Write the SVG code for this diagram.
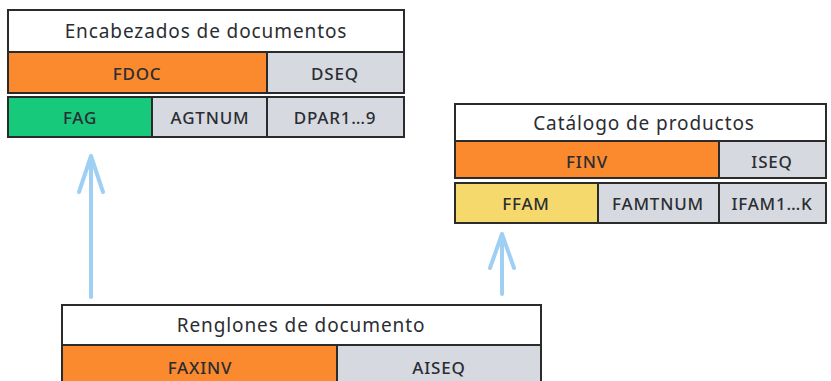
<svg xmlns="http://www.w3.org/2000/svg" width="831" height="381" viewBox="0 0 831 381">
<style>
.b{stroke:#2b2b2b;stroke-width:2}
.w{fill:#ffffff}.o{fill:#fb8a2e}.g{fill:#d6d9df}.gr{fill:#16c97b}.y{fill:#f5d96c}
.t{font-family:"Noto Sans","Open Sans",sans-serif;font-size:19px;letter-spacing:0.9px;fill:#2a2d33;text-anchor:middle}
.c{font-family:"Noto Sans","Open Sans",sans-serif;font-size:17px;font-weight:500;letter-spacing:0.8px;fill:#2a2d33;text-anchor:middle}
.a{stroke:#9fd0f3;stroke-width:4;fill:none;stroke-linecap:round;stroke-linejoin:round}
</style>
<rect width="831" height="381" fill="#ffffff"/>
<g id="encabezados">
<rect class="b w" x="8" y="10" width="396" height="42"/>
<text class="t" x="206" y="38">Encabezados de documentos</text>
<rect class="b o" x="8" y="52" width="259" height="41"/>
<rect class="b g" x="267" y="52" width="137" height="41"/>
<text class="c" x="137" y="80">FDOC</text>
<text class="c" x="335" y="80">DSEQ</text>
<rect class="b gr" x="8" y="97" width="144" height="40"/>
<rect class="b g" x="152" y="97" width="115" height="40"/>
<rect class="b g" x="267" y="97" width="137" height="40"/>
<text class="c" x="80" y="124">FAG</text>
<text class="c" x="210" y="124">AGTNUM</text>
<text class="c" x="335" y="124">DPAR1…9</text>
</g>
<g id="catalogo">
<rect class="b w" x="455" y="104" width="371" height="37"/>
<text class="t" x="644" y="130">Catálogo de productos</text>
<rect class="b o" x="455" y="141" width="264" height="37"/>
<rect class="b g" x="719" y="141" width="107" height="37"/>
<text class="c" x="587" y="168">FINV</text>
<text class="c" x="772" y="168">ISEQ</text>
<rect class="b y" x="455" y="183" width="143" height="40"/>
<rect class="b g" x="598" y="183" width="121" height="40"/>
<rect class="b g" x="719" y="183" width="107" height="40"/>
<text class="c" x="526" y="210">FFAM</text>
<text class="c" x="658" y="210">FAMTNUM</text>
<text class="c" x="772" y="210">IFAM1…K</text>
</g>
<g id="renglones">
<rect class="b w" x="62" y="305" width="479" height="40"/>
<text class="t" x="301" y="332">Renglones de documento</text>
<rect class="b o" x="62" y="345" width="275" height="40"/>
<rect class="b g" x="337" y="345" width="204" height="40"/>
<text class="c" x="200" y="374">FAXINV</text>
<text class="c" x="439" y="374">AISEQ</text>
</g>
<g id="connectors">
<path class="a" d="M91 297 V156 M79 192 L91 156 L103 192"/>
<path class="a" d="M502 294 V234 M490 268 L502 234 L514 268"/>
</g>
</svg>
